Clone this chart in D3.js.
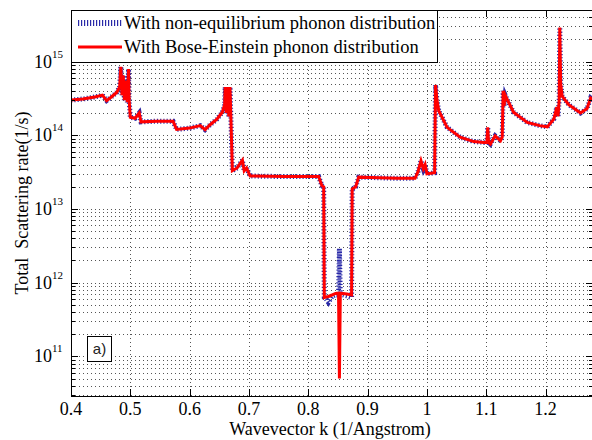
<!DOCTYPE html>
<html>
<head>
<meta charset="UTF-8">
<title>Total scattering rate</title>
<style>
    body { margin: 0; padding: 0; background: #ffffff; }
    svg { display: block; }
</style>
</head>
<body>
<svg id="chart" width="592" height="440"></svg>
<script src="https://d3js.org/d3.v7.min.js"></script>
<script>
// wavevector points (1/Angstrom), shared by both series
const kValues = [
    0.400, 0.420, 0.440, 0.453, 0.460, 0.468, 0.477, 0.482, 0.484, 0.486,
    0.488, 0.490, 0.493, 0.495, 0.497, 0.498, 0.500, 0.508, 0.515, 0.518,
    0.545, 0.572, 0.578, 0.600, 0.618, 0.626, 0.635, 0.646, 0.655, 0.659,
    0.660, 0.662, 0.664, 0.666, 0.668, 0.670, 0.672, 0.680, 0.689, 0.692,
    0.696, 0.702, 0.760, 0.8175, 0.823, 0.826, 0.827, 0.830, 0.834, 0.840,
    0.845, 0.848, 0.851, 0.8525, 0.854, 0.865, 0.873, 0.874, 0.880, 0.885,
    0.920, 0.950, 0.980, 0.985, 0.990, 0.994, 0.997, 1.000, 1.013, 1.0145,
    1.017, 1.020, 1.034, 1.056, 1.079, 1.096, 1.101, 1.1025, 1.104, 1.107,
    1.115, 1.124, 1.127, 1.1285, 1.130, 1.132, 1.135, 1.146, 1.169, 1.190,
    1.203, 1.214, 1.219, 1.221, 1.223, 1.224, 1.2255, 1.228, 1.239, 1.259,
    1.270, 1.276, 1.280
];

// with Bose-Einstein phonon distribution (1/s)
const rateBoseEinstein = [
    3.0e14, 3.1e14, 3.3e14, 3.5e14, 2.95e14, 3.3e14, 3.8e14, 4.5e14, 8.5e14, 3.5e14,
    6.5e14, 3.0e14, 5.5e14, 2.8e14, 7.9e14, 3.0e14, 1.75e14, 1.7e14, 2.0e14, 1.52e14,
    1.55e14, 1.55e14, 1.2e14, 1.25e14, 1.35e14, 1.19e14, 1.4e14, 1.65e14, 2.05e14, 2.6e14,
    4.5e14, 2.0e14, 4.5e14, 1.8e14, 4.5e14, 1.3e14, 3.3e13, 3.6e13, 4.6e13, 3.3e13,
    3.6e13, 2.8e13, 2.75e13, 2.75e13, 2.07e13, 2.0e13, 6.3e11, 6.4e11, 6.5e11, 6.8e11,
    7.1e11, 7.2e11, 7.2e11, 5.0e10, 7.2e11, 7.0e11, 6.8e11, 1.86e13, 2.0e13, 2.7e13,
    2.65e13, 2.6e13, 2.6e13, 3.2e13, 4.5e13, 3.5e13, 4.0e13, 3.0e13, 3.1e13, 4.8e14,
    3.0e14, 2.15e14, 1.28e14, 9.4e13, 8.2e13, 8.0e13, 8.0e13, 1.28e14, 8.0e13, 7.6e13,
    9.8e13, 8.4e13, 9.5e13, 4.0e14, 2.5e14, 3.5e14, 3.1e14, 2.05e14, 1.49e14, 1.35e14,
    1.3e14, 1.66e14, 2.4e14, 1.8e14, 3.0e14, 2.9e15, 5.0e14, 3.4e14, 2.6e14, 2.0e14,
    2.3e14, 3.2e14, 3.0e14
];

// with non-equilibrium phonon distribution (1/s)
const rateNonEquilibrium = [
    3.0e14, 3.1e14, 3.3e14, 3.5e14, 2.95e14, 3.3e14, 3.8e14, 4.5e14, 8.5e14, 3.5e14,
    6.5e14, 3.0e14, 5.5e14, 2.8e14, 7.9e14, 3.0e14, 1.75e14, 1.7e14, 2.0e14, 1.52e14,
    1.55e14, 1.55e14, 1.2e14, 1.25e14, 1.35e14, 1.19e14, 1.4e14, 1.65e14, 2.05e14, 2.6e14,
    4.5e14, 2.0e14, 4.5e14, 1.8e14, 4.5e14, 1.3e14, 3.3e13, 3.6e13, 4.6e13, 3.3e13,
    3.6e13, 2.8e13, 2.75e13, 2.75e13, 2.07e13, 2.0e13, 6.3e11, 6.0e11, 5.4e11, 6.5e11,
    6.8e11, 6.8e11, 7.0e11, 2.9e12, 7.0e11, 6.6e11, 6.3e11, 1.86e13, 2.0e13, 2.7e13,
    2.65e13, 2.6e13, 2.6e13, 3.2e13, 4.5e13, 3.5e13, 4.0e13, 3.0e13, 3.1e13, 4.8e14,
    3.0e14, 2.15e14, 1.28e14, 9.4e13, 8.2e13, 8.0e13, 8.0e13, 1.28e14, 8.0e13, 7.6e13,
    9.8e13, 8.4e13, 9.5e13, 4.0e14, 2.5e14, 3.5e14, 3.1e14, 2.05e14, 1.49e14, 1.35e14,
    1.3e14, 1.66e14, 2.4e14, 1.8e14, 3.0e14, 2.9e15, 5.0e14, 3.4e14, 2.6e14, 2.0e14,
    2.3e14, 3.2e14, 3.0e14
];

const xTicks = [0.4, 0.5, 0.6, 0.7, 0.8, 0.9, 1.0, 1.1, 1.2];
const xTickLabels = ["0.4", "0.5", "0.6", "0.7", "0.8", "0.9", "1", "1.1", "1.2"];
const yExponents = [11, 12, 13, 14, 15];
const legendLabels = ["With non-equilibrium phonon distribution", "With Bose-Einstein phonon distribution"];

const serif = "'Liberation Serif', 'Times New Roman', Times, 'DejaVu Serif', serif";
const svg = d3.select("#chart");
const plotLeft = 71, plotRight = 593, plotTop = 10, plotBottom = 396;

const x = d3.scaleLinear().domain([0.4, 1.28]).range([plotLeft, plotRight]);
const y = d3.scaleLog().domain([2.9e10, 5e15]).range([plotBottom, plotTop]);

// minor y values 2..9 x 10^n
const yMinor = [];
for (let n = 10; n <= 15; n++) {
    for (let m = 2; m <= 9; m++) {
        const v = m * Math.pow(10, n);
        if (v > y.domain()[0] && v < y.domain()[1]) yMinor.push(v);
    }
}
const yMajor = yExponents.map(e => Math.pow(10, e));

svg.append("defs").append("clipPath").attr("id", "plotClip")
    .append("rect")
    .attr("x", plotLeft).attr("y", plotTop)
    .attr("width", plotRight - plotLeft).attr("height", plotBottom - plotTop);

// grid
const grid = svg.append("g").attr("stroke", "#555").attr("stroke-width", 1)
    .attr("stroke-dasharray", "1,3");
grid.selectAll("line.gy").data(yMajor.concat(yMinor)).enter().append("line")
    .attr("x1", plotLeft).attr("x2", plotRight)
    .attr("y1", d => Math.round(y(d)) + 0.5).attr("y2", d => Math.round(y(d)) + 0.5);
grid.selectAll("line.gx").data(xTicks.slice(1)).enter().append("line")
    .attr("y1", plotTop).attr("y2", plotBottom)
    .attr("x1", d => Math.round(x(d)) + 0.5).attr("x2", d => Math.round(x(d)) + 0.5);

// series
const line = d3.line()
    .x((d, i) => x(kValues[i]))
    .y(d => y(d));

const plot = svg.append("g").attr("clip-path", "url(#plotClip)");
plot.append("path")
    .datum(rateNonEquilibrium)
    .attr("fill", "none")
    .attr("stroke", "#2a2aa8")
    .attr("stroke-width", 5)
    .attr("stroke-dasharray", "1.2,2")
    .attr("d", line);
plot.append("path")
    .datum(rateBoseEinstein)
    .attr("fill", "none")
    .attr("stroke", "#ff0000")
    .attr("stroke-width", 3)
    .attr("d", line);

// axes frame and ticks (MATLAB style, ticks inside)
const axes = svg.append("g").attr("stroke", "#000").attr("stroke-width", 1);
axes.append("rect")
    .attr("x", plotLeft + 0.5).attr("y", plotTop + 0.5)
    .attr("width", plotRight - plotLeft - 1).attr("height", plotBottom - plotTop)
    .attr("fill", "none");

const yTick = (v, len) => {
    const yy = Math.round(y(v)) + 0.5;
    axes.append("line").attr("x1", plotLeft).attr("x2", plotLeft + len).attr("y1", yy).attr("y2", yy);
    axes.append("line").attr("x1", plotRight).attr("x2", plotRight - len).attr("y1", yy).attr("y2", yy);
};
yMajor.forEach(v => yTick(v, 7));
yMinor.forEach(v => yTick(v, 4));
xTicks.forEach(v => {
    const xx = Math.round(x(v)) + 0.5;
    axes.append("line").attr("x1", xx).attr("x2", xx).attr("y1", plotBottom).attr("y2", plotBottom - 7);
    axes.append("line").attr("x1", xx).attr("x2", xx).attr("y1", plotTop).attr("y2", plotTop + 7);
});

// tick labels
svg.selectAll("text.xl").data(xTicks).enter().append("text")
    .attr("font-family", serif)
    .attr("x", d => x(d))
    .attr("y", 415)
    .attr("text-anchor", "middle")
    .attr("font-size", 18)
    .text((d, i) => xTickLabels[i]);

const yl = svg.selectAll("text.yl").data(yExponents).enter().append("text")
    .attr("font-family", serif)
    .attr("x", 34)
    .attr("y", d => y(Math.pow(10, d)) + 6)
    .attr("font-size", 18);
yl.append("tspan").text("10");
yl.append("tspan").attr("dy", -10).attr("font-size", 11).text(d => d);

// axis titles
svg.append("text").attr("font-family", serif)
    .attr("x", 330).attr("y", 435)
    .attr("text-anchor", "middle").attr("font-size", 18)
    .text("Wavevector k (1/Angstrom)");
svg.append("text").attr("font-family", serif)
    .attr("transform", "translate(28,203) rotate(-90)")
    .attr("text-anchor", "middle").attr("font-size", 18)
    .attr("xml:space", "preserve")
    .text("Total  Scattering rate(1/s)");

// legend
const legend = svg.append("g");
legend.append("rect")
    .attr("x", plotLeft + 0.5).attr("y", plotTop + 0.5)
    .attr("width", 366).attr("height", 52)
    .attr("fill", "#fff").attr("stroke", "#000");
legend.append("line")
    .attr("x1", 78).attr("x2", 122).attr("y1", 23).attr("y2", 23)
    .attr("stroke", "#2a2aa8").attr("stroke-width", 6).attr("stroke-dasharray", "1.2,1.8");
legend.append("line")
    .attr("x1", 78).attr("x2", 122).attr("y1", 47).attr("y2", 47)
    .attr("stroke", "#ff0000").attr("stroke-width", 3);
legend.selectAll("text").data(legendLabels).enter().append("text")
    .attr("font-family", serif)
    .attr("x", 124)
    .attr("y", (d, i) => 29 + i * 24)
    .attr("font-size", 18.5)
    .text(d => d);

// panel label
svg.append("rect")
    .attr("x", 87.5).attr("y", 336.5).attr("width", 24).attr("height", 25)
    .attr("fill", "#fff").attr("stroke", "#000");
svg.append("text")
    .attr("x", 99.5).attr("y", 354)
    .attr("text-anchor", "middle")
    .attr("font-family", "Arial, 'Liberation Sans', sans-serif")
    .attr("font-size", 15).attr("fill", "#222")
    .text("a)");
</script>
</body>
</html>
